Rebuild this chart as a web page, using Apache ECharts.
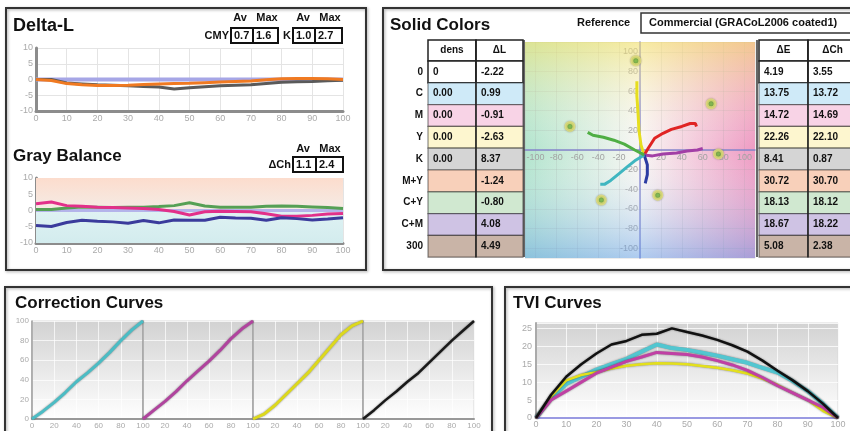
<!DOCTYPE html>
<html>
<head>
<meta charset="UTF-8">
<title>Press Check</title>
<script src="https://cdn.jsdelivr.net/npm/echarts@6/dist/echarts.min.js"></script>
<style>
html,body{margin:0;padding:0;background:#fff;}
#main{width:850px;height:431px;}
</style>
</head>
<body>
<div id="main"></div>
<script>
var FONT = '"Liberation Sans", Arial, sans-serif';

// ---- data ----
var pct5 = [0,5,10,15,20,25,30,35,40,45,50,55,60,65,70,75,80,85,90,95,100];
var pct10 = [0,10,20,30,40,50,60,70,80,90,100];

// Delta-L
var dlRef    = [0,0,0,0,0,0,0,0,0,0,0,0,0,0,0,0,0,0,0,0,0];
var dlK      = [0,0,-1.1,-1.4,-1.7,-1.8,-2.0,-2.2,-2.4,-3.0,-2.6,-2.3,-2.0,-1.8,-1.7,-1.3,-0.9,-0.7,-0.6,-0.4,-0.2];
var dlOrange = [0,-0.3,-1.3,-1.7,-1.9,-1.9,-1.8,-1.6,-1.4,-1.3,-1.2,-1.0,-0.8,-0.6,-0.5,-0.1,0.2,0.3,0.3,0.2,0];
var dlStats  = ['0.7','1.6','1.0','2.7'];

// Gray Balance
var gbRef     = [0,0,0,0,0,0,0,0,0,0,0,0,0,0,0,0,0,0,0,0,0];
var gbMagenta = [2.1,2.6,1.5,1.3,1.0,0.9,0.8,0.6,0.3,-0.3,-1.4,-0.4,-0.2,-0.3,-0.4,-1.0,-1.8,-1.8,-1.5,-1.1,-0.9];
var gbGreen   = [0.3,0.3,0.8,1.1,1.0,0.9,1.0,1.0,1.2,1.5,2.4,1.4,1.0,1.0,1.0,1.3,1.4,1.3,1.1,0.9,0.6];
var gbBlue    = [-4.6,-4.9,-3.7,-3.0,-3.3,-3.5,-3.9,-3.1,-3.8,-2.9,-3.0,-3.0,-2.1,-2.3,-2.4,-3.0,-2.2,-2.5,-2.9,-2.6,-2.2];
var gbStats   = ['1.1','2.4'];

// Solid Colors table
var rowLabels = ['0','C','M','Y','K','M+Y','C+Y','C+M','300'];
var densVals  = ['0','0.00','0.00','0.00','0.00','','','',''];
var dLVals    = ['-2.22','0.99','-0.91','-2.63','8.37','-1.24','-0.80','4.08','4.49'];
var dEVals    = ['4.19','13.75','14.72','22.26','8.41','30.72','18.13','18.67','5.08'];
var dChVals   = ['3.55','13.72','14.69','22.10','0.87','30.70','18.12','18.22','2.38'];
var refName   = 'Commercial (GRACoL2006 coated1)';

// a*b* plane paths
var abYellow  = [[4,-5],[1,5],[-1,20],[-2,40],[-3,55],[-3,70]];
var abRed     = [[4,-5],[8,2],[14,12],[22,17],[30,21],[40,24],[48,27],[53,27],[54,24]];
var abMagenta = [[4,-5],[12,-6],[22,-4],[35,-3],[45,-1],[55,0],[60,1.5]];
var abBlue    = [[4,-5],[7,-15],[7,-25],[5,-34]];
var abCyan    = [[4,-5],[-5,-11],[-12,-17],[-20,-24],[-28,-31],[-34,-35],[-38,-35]];
var abGreen   = [[4,-5],[-5,0],[-15,6],[-25,10],[-35,13],[-45,15],[-50,18]];
var abTargets = [[-4,91],[68,47],[-67,24],[75,-4],[-37,-51],[17,-46]];

// Correction curves
var ccCyan    = [0,8,17,27,38,47,57,68,80,91,100];
var ccMagenta = [0,9,18,28,39,49,59,70,82,92,100];
var ccYellow  = [0,5,14,25,36,47,60,73,86,95,100];
var ccBlack   = [0,9,19,28,38,47,58,69,80,90,100];

// TVI curves
var tviRef     = [0,0,0,0,0,0,0,0,0,0,0,0,0,0,0,0,0,0,0,0,0];
var tviBlack   = [0,6.5,11.5,15,18,20.5,21.5,23.2,23.5,25,24,23,21.8,20.3,18.5,16,13.2,10.5,7.5,4,0];
var tviCyan    = [0,5.5,9.5,11.5,13.5,15,16.5,18.5,20.5,19.5,19,18.2,17.4,16.4,15.4,14,12.7,10.3,7.5,4,0];
var tviMagenta = [0,5,7.5,10,12.5,14.2,15.8,17,18.3,18,17.7,17,16,14.8,13.3,11.3,9,7,5,3,0];
var tviYellow  = [0,6,10.5,12,12.8,13.8,14.6,15,15.3,15.2,15,14.5,14,13.3,12.4,11,9.2,7,5,2,0];

function pairs(xs, ys) {
  var out = [];
  for (var i = 0; i < xs.length; i++) out.push([xs[i], ys[i]]);
  return out;
}
function grad(stops, horiz) {
  return new echarts.graphic.LinearGradient(0, 0, horiz ? 1 : 0, horiz ? 0 : 1,
    stops.map(function (c, i) { return {offset: i / (stops.length - 1), color: c}; }));
}

var chart = echarts.init(document.getElementById('main'));

// ---- graphic: frames, titles, tables ----
var g = [];
function rect(x, y, w, h, style, z) {
  g.push({type: 'rect', z: z || 1, shape: {x: x, y: y, width: w, height: h}, style: style});
}
function txt(x, y, s, size, align, color, weight) {
  g.push({type: 'text', z: 10, x: x, y: y, style: {
    text: s, fill: color || '#111', font: (weight || 'bold') + ' ' + size + 'px ' + FONT,
    textAlign: align || 'left', textVerticalAlign: 'middle'}});
}

var frame = {fill: 'none', stroke: '#333', lineWidth: 2, shadowColor: 'rgba(0,0,0,0.35)', shadowBlur: 3, shadowOffsetX: 1, shadowOffsetY: 1};
rect(6, 8, 360, 262, frame);
rect(383, 8, 480, 262, frame);
rect(5, 287, 487, 160, frame);
rect(505, 287, 360, 160, frame);

txt(13, 26, 'Delta-L', 18);
txt(13, 156, 'Gray Balance', 17);
txt(390, 25, 'Solid Colors', 17);
txt(15, 303, 'Correction Curves', 17);
txt(513, 303, 'TVI Curves', 17);

// Delta-L stats boxes
txt(240, 18, 'Av', 11, 'center');
txt(267, 18, 'Max', 11, 'center');
txt(303, 18, 'Av', 11, 'center');
txt(330, 18, 'Max', 11, 'center');
txt(229, 36, 'CMY', 11, 'right');
txt(283, 36, 'K', 11, 'left');
var box = {fill: '#fff', stroke: '#111', lineWidth: 2};
var dlBoxes = [[231, 22], [253, 25], [293, 22], [315, 27]];
dlBoxes.forEach(function (b, i) {
  rect(b[0], 28, b[1], 15, box, 5);
  txt(b[0] + 3, 36, dlStats[i], 11, 'left');
});

// Gray balance stats
txt(303, 149, 'Av', 11, 'center');
txt(330, 149, 'Max', 11, 'center');
txt(291, 165, '\u0394Ch', 11, 'right');
var gbBoxes = [[293, 23], [316, 27]];
gbBoxes.forEach(function (b, i) {
  rect(b[0], 157, b[1], 15, box, 5);
  txt(b[0] + 3, 165, gbStats[i], 11, 'left');
});

// Reference selector
txt(577, 23, 'Reference', 11, 'left');
rect(641, 13, 220, 20, {fill: '#fff', stroke: '#333', lineWidth: 1.5}, 5);
txt(649, 23, refName, 11, 'left');

// Solid colors tables
var rowFill = ['#ffffff','#cfeaf8','#f8d3e6','#fdf6cf','#d5d5d5','#f8d0ba','#d0e8d0','#cfc3e4','#c9b4a7'];
var hdrTop = 40, hdrH = 21, rowH = 21.8;
var lCols = [428, 476, 523];
var rCols = [759, 808, 857];
function table(cols, heads, c1, c2) {
  for (var k = 0; k < 2; k++) {
    rect(cols[k], hdrTop, cols[k + 1] - cols[k], hdrH, {fill: '#fff', stroke: '#222', lineWidth: 1.5}, 5);
    txt((cols[k] + cols[k + 1]) / 2, hdrTop + hdrH / 2, heads[k], 10, 'center');
  }
  for (var r = 0; r < rowLabels.length; r++) {
    var y = hdrTop + hdrH + r * rowH;
    var st = r === 0 ? {fill: '#fff', stroke: '#222', lineWidth: 1.5}
                     : {fill: rowFill[r], stroke: 'rgba(0,0,0,0.45)', lineWidth: 1.2};
    rect(cols[0], y, cols[1] - cols[0], rowH, st, 5);
    rect(cols[1], y, cols[2] - cols[1], rowH, st, 5);
    txt(cols[0] + 5, y + rowH / 2, c1[r], 10, 'left');
    txt(cols[1] + 5, y + rowH / 2, c2[r], 10, 'left');
  }
  g.push({type: 'line', z: 6, shape: {x1: cols[1], y1: hdrTop, x2: cols[1], y2: hdrTop + hdrH + rowLabels.length * rowH},
    style: {stroke: '#222', lineWidth: 1.5}});
}
table(lCols, ['dens', '\u0394L'], densVals, dLVals);
table(rCols, ['\u0394E', '\u0394Ch'], dEVals, dChVals);
rowLabels.forEach(function (s, r) {
  txt(423, hdrTop + hdrH + r * rowH + rowH / 2, s, 10, 'right');
});

// a*b* plane background: vertical layer over the horizontal grid background
rect(525, 42, 230, 216, {fill: grad(['rgba(246,228,110,0.6)', 'rgba(255,255,255,0)', 'rgba(100,160,235,0.5)'], false)}, 0);
g.push({type: 'line', z: 6, shape: {x1: 524, y1: 40, x2: 524, y2: 257}, style: {stroke: '#333', lineWidth: 1.5}});
g.push({type: 'line', z: 6, shape: {x1: 757, y1: 40, x2: 757, y2: 257}, style: {stroke: '#333', lineWidth: 1.5}});

// ---- axes ----
var lblGray = '#aaa';
var grids = [
  {left: 36, top: 48, width: 307, height: 63},
  {left: 36, top: 178, width: 307, height: 65},
  {left: 525, top: 42, width: 230, height: 216, show: true, borderWidth: 0,
   backgroundColor: grad(['rgb(178,228,205)', '#f8f6f3', 'rgb(238,155,195)'], true)},
  {left: 32, top: 321, width: 111, height: 98},
  {left: 143, top: 321, width: 110, height: 98},
  {left: 253, top: 321, width: 110, height: 98},
  {left: 363, top: 321, width: 111, height: 98},
  {left: 536, top: 323, width: 302, height: 95}
];
var ccBg = grad(['#d2d2d2', '#ffffff'], false);
for (var i = 3; i <= 7; i++) {
  grids[i].show = true; grids[i].backgroundColor = ccBg; grids[i].borderColor = '#d8d8d8'; grids[i].borderWidth = 1;
}

var xAxes = [], yAxes = [];
function lineChartAxes(gi, ymin, ymax, yint) {
  xAxes.push({gridIndex: gi, type: 'value', min: 0, max: 100, interval: 10,
    axisLine: {onZero: false, lineStyle: {color: '#8c8c8c', width: 3}}, axisTick: {show: false},
    axisLabel: {color: lblGray, fontSize: 9, margin: 3, fontFamily: FONT},
    splitLine: {lineStyle: {color: '#e4e4e4'}}});
  yAxes.push({gridIndex: gi, type: 'value', min: ymin, max: ymax, interval: yint,
    axisLine: {show: true, onZero: false, lineStyle: {color: '#8c8c8c', width: 3}}, axisTick: {show: false},
    axisLabel: {color: lblGray, fontSize: 9, margin: 3, fontFamily: FONT},
    splitLine: {lineStyle: {color: '#e4e4e4'}}});
}
lineChartAxes(0, -10, 10, 5);
lineChartAxes(1, -10, 10, 5);

// a*b* plane: axes run through the centre (offset from the grid edge)
function abLabel(v) { return (v % 20 === 0 && v !== 0) ? String(v) : ''; }
xAxes.push({gridIndex: 2, type: 'value', min: -110, max: 110, minInterval: 20, maxInterval: 20, splitNumber: 11,
  position: 'bottom', offset: -108,
  axisLine: {onZero: false, lineStyle: {color: '#8585cc', width: 1.5}}, axisTick: {show: false},
  axisLabel: {color: '#a0a0a0', fontSize: 9, margin: 3, fontFamily: FONT, formatter: abLabel},
  splitLine: {lineStyle: {color: 'rgba(150,150,150,0.18)'}}});
yAxes.push({gridIndex: 2, type: 'value', min: -110, max: 110, minInterval: 20, maxInterval: 20, splitNumber: 11,
  position: 'left', offset: -115,
  axisLine: {show: true, onZero: false, lineStyle: {color: '#8585cc', width: 1.5}}, axisTick: {show: false},
  axisLabel: {color: '#a0a0a0', fontSize: 9, margin: 2, fontFamily: FONT, formatter: abLabel},
  splitLine: {lineStyle: {color: 'rgba(150,150,150,0.18)'}}});

// correction curves
for (var c = 0; c < 4; c++) {
  xAxes.push({gridIndex: 3 + c, type: 'value', min: 0, max: 100, interval: 20,
    axisLine: {onZero: false, lineStyle: {color: '#999', width: 2}}, axisTick: {show: false},
    axisLabel: {color: lblGray, fontSize: 8, margin: 3, fontFamily: FONT, showMinLabel: c === 0},
    splitLine: {lineStyle: {color: 'rgba(255,255,255,0.7)'}}});
  yAxes.push({gridIndex: 3 + c, type: 'value', min: 0, max: 100, interval: 20,
    axisLine: {show: true, onZero: false, lineStyle: {color: '#9a9a9a', width: 1.5}}, axisTick: {show: false},
    axisLabel: {show: c === 0, color: lblGray, fontSize: 8, margin: 3, fontFamily: FONT},
    splitLine: {lineStyle: {color: 'rgba(255,255,255,0.7)'}}});
}

// TVI
xAxes.push({gridIndex: 7, type: 'value', min: 0, max: 100, interval: 10,
  axisLine: {onZero: false, lineStyle: {color: '#aaa', width: 2}}, axisTick: {show: false},
  axisLabel: {color: lblGray, fontSize: 9, margin: 2, fontFamily: FONT},
  splitLine: {lineStyle: {color: 'rgba(255,255,255,0.75)'}}});
yAxes.push({gridIndex: 7, type: 'value', min: 0, max: 26.5, interval: 5,
  axisLine: {show: true, onZero: false, lineStyle: {color: '#aaa', width: 2}}, axisTick: {show: false},
  axisLabel: {color: lblGray, fontSize: 9, margin: 4, fontFamily: FONT, showMaxLabel: false},
  splitLine: {lineStyle: {color: 'rgba(255,255,255,0.75)'}}});

// ---- series ----
var series = [];
function line(ax, data, color, width, shadow, z) {
  var ls = {color: color, width: width};
  if (shadow) { ls.shadowColor = 'rgba(0,0,0,0.45)'; ls.shadowBlur = 2; }
  series.push({type: 'line', xAxisIndex: ax, yAxisIndex: ax, data: data, symbol: 'none',
    lineStyle: ls, itemStyle: {color: color}, z: z || 3, silent: true});
}

line(0, pairs(pct5, dlRef), '#a6a6e6', 4);
line(0, pairs(pct5, dlK), '#5a5a5a', 3);
line(0, pairs(pct5, dlOrange), '#f07a22', 3);

series.push({type: 'line', xAxisIndex: 1, yAxisIndex: 1, data: pairs(pct5, gbRef), symbol: 'none',
  lineStyle: {color: '#b4b4ea', width: 3}, z: 2,
  markArea: {silent: true, data: [
    [{yAxis: 0, itemStyle: {color: grad(['#fcdccd', '#f5ece6'], false)}}, {yAxis: 10}],
    [{yAxis: -10, itemStyle: {color: grad(['#dff2f3', '#d3ecee'], false)}}, {yAxis: 0}]
  ]}});
line(1, pairs(pct5, gbGreen), '#55a055', 3);
line(1, pairs(pct5, gbMagenta), '#e2308a', 3);
line(1, pairs(pct5, gbBlue), '#3b3b9c', 3);

line(2, abYellow, '#e6de1e', 3);
line(2, abRed, '#e02424', 3);
line(2, abMagenta, '#a23fa6', 3);
line(2, abBlue, '#2c3ca2', 3);
line(2, abCyan, '#3fb6c0', 3);
line(2, abGreen, '#4fae44', 3);
series.push({type: 'scatter', xAxisIndex: 2, yAxisIndex: 2, data: abTargets, symbolSize: 8, z: 5,
  itemStyle: {color: '#7cc242', borderColor: '#e6e27a', borderWidth: 3, shadowColor: 'rgba(0,0,0,0.35)', shadowBlur: 2}});

line(3, pairs(pct10, ccCyan), '#4cbcc4', 3, true);
line(4, pairs(pct10, ccMagenta), '#b0449e', 3, true);
line(5, pairs(pct10, ccYellow), '#dcd81e', 3, true);
line(6, pairs(pct10, ccBlack), '#1a1a1a', 2.5, true);

line(7, pairs(pct5, tviRef), '#9a9ae2', 2);
line(7, pairs(pct5, tviCyan), '#52c6d0', 4, true);
line(7, pairs(pct5, tviYellow), '#e4e01c', 2.5, true);
line(7, pairs(pct5, tviMagenta), '#c040a4', 3, true);
line(7, pairs(pct5, tviBlack), '#111', 2.5, true);

chart.setOption({
  animation: false,
  backgroundColor: '#fff',
  textStyle: {fontFamily: FONT},
  grid: grids,
  xAxis: xAxes,
  yAxis: yAxes,
  series: series,
  graphic: {elements: g}
});
</script>
</body>
</html>
